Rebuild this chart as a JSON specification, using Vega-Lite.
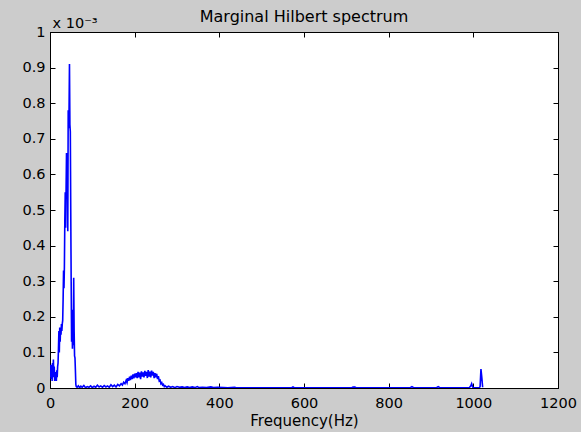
{
  "$schema": "https://vega.github.io/schema/vega-lite/v6.json",
  "width": 508,
  "height": 356,
  "autosize": {"type": "none"},
  "padding": {"left": 50, "top": 32, "right": 23, "bottom": 44},
  "background": "#cccccc",
  "config": {
    "view": {"fill": "white", "stroke": "black", "strokeWidth": 1},
    "font": "DejaVu Sans"
  },
  "title": {
    "text": "Marginal Hilbert spectrum",
    "fontSize": 16,
    "fontWeight": "normal",
    "font": "DejaVu Sans",
    "color": "black",
    "anchor": "middle",
    "offset": -10
  },
  "data": {
    "values": [
      {"frequency": 0, "amplitude": 0.000055}, {"frequency": 1, "amplitude": 0.00003}, {"frequency": 2, "amplitude": 0.000065},
      {"frequency": 3, "amplitude": 0.000025}, {"frequency": 4, "amplitude": 0.00005}, {"frequency": 5, "amplitude": 0.00002},
      {"frequency": 6, "amplitude": 0.00007}, {"frequency": 7, "amplitude": 0.000035}, {"frequency": 8, "amplitude": 0.00008},
      {"frequency": 9, "amplitude": 0.00003}, {"frequency": 10, "amplitude": 0.00006}, {"frequency": 11, "amplitude": 0.00002},
      {"frequency": 12, "amplitude": 0.000045}, {"frequency": 13, "amplitude": 0.000025}, {"frequency": 14, "amplitude": 0.00004},
      {"frequency": 15, "amplitude": 0.00002}, {"frequency": 16, "amplitude": 0.00005}, {"frequency": 17, "amplitude": 0.00003},
      {"frequency": 18, "amplitude": 0.00006}, {"frequency": 19, "amplitude": 0.00007}, {"frequency": 20, "amplitude": 0.00011},
      {"frequency": 21, "amplitude": 0.00016}, {"frequency": 22, "amplitude": 0.0001}, {"frequency": 23, "amplitude": 0.00017},
      {"frequency": 24, "amplitude": 0.00013}, {"frequency": 25, "amplitude": 0.00017}, {"frequency": 26, "amplitude": 0.00015},
      {"frequency": 27, "amplitude": 0.00018}, {"frequency": 28, "amplitude": 0.00016}, {"frequency": 29, "amplitude": 0.00018},
      {"frequency": 30, "amplitude": 0.00019}, {"frequency": 31, "amplitude": 0.00025}, {"frequency": 32, "amplitude": 0.00033},
      {"frequency": 33, "amplitude": 0.00028}, {"frequency": 34, "amplitude": 0.00034}, {"frequency": 35, "amplitude": 0.00047},
      {"frequency": 36, "amplitude": 0.00055}, {"frequency": 37, "amplitude": 0.00045}, {"frequency": 38, "amplitude": 0.00056},
      {"frequency": 39, "amplitude": 0.00066}, {"frequency": 40, "amplitude": 0.00061}, {"frequency": 41, "amplitude": 0.00066},
      {"frequency": 42, "amplitude": 0.00044}, {"frequency": 43, "amplitude": 0.00078}, {"frequency": 44, "amplitude": 0.00073},
      {"frequency": 45, "amplitude": 0.00078}, {"frequency": 46, "amplitude": 0.00091}, {"frequency": 47, "amplitude": 0.00074},
      {"frequency": 48, "amplitude": 0.00072}, {"frequency": 49, "amplitude": 0.0005}, {"frequency": 50, "amplitude": 0.0003},
      {"frequency": 51, "amplitude": 0.00013}, {"frequency": 52, "amplitude": 0.00022}, {"frequency": 53, "amplitude": 0.00011},
      {"frequency": 54, "amplitude": 0.00018}, {"frequency": 55, "amplitude": 0.00012}, {"frequency": 56, "amplitude": 0.00031},
      {"frequency": 57, "amplitude": 0.00016}, {"frequency": 58, "amplitude": 0.00009}, {"frequency": 59, "amplitude": 0.000085},
      {"frequency": 60, "amplitude": 0.00005}, {"frequency": 61, "amplitude": 0.00001}, {"frequency": 62, "amplitude": 0.000004},
      {"frequency": 64, "amplitude": 0.000002}, {"frequency": 67, "amplitude": 0.000006}, {"frequency": 70, "amplitude": 0.000001},
      {"frequency": 73, "amplitude": 0.000005}, {"frequency": 76, "amplitude": 0.000002}, {"frequency": 80, "amplitude": 0.000007},
      {"frequency": 84, "amplitude": 0.000001}, {"frequency": 88, "amplitude": 0.000004}, {"frequency": 92, "amplitude": 0.000002},
      {"frequency": 96, "amplitude": 0.000006}, {"frequency": 100, "amplitude": 0.000001}, {"frequency": 104, "amplitude": 0.000005},
      {"frequency": 108, "amplitude": 0.000002}, {"frequency": 112, "amplitude": 0.000008}, {"frequency": 116, "amplitude": 0.000003},
      {"frequency": 120, "amplitude": 0.000006}, {"frequency": 124, "amplitude": 0.000002}, {"frequency": 128, "amplitude": 0.000007},
      {"frequency": 132, "amplitude": 0.000003}, {"frequency": 136, "amplitude": 0.000006}, {"frequency": 140, "amplitude": 0.000002},
      {"frequency": 144, "amplitude": 0.000009}, {"frequency": 148, "amplitude": 0.000004}, {"frequency": 152, "amplitude": 0.000008},
      {"frequency": 156, "amplitude": 0.000003}, {"frequency": 160, "amplitude": 0.00001}, {"frequency": 164, "amplitude": 0.000006},
      {"frequency": 168, "amplitude": 0.000012}, {"frequency": 171, "amplitude": 0.000008}, {"frequency": 174, "amplitude": 0.000016},
      {"frequency": 177, "amplitude": 0.000012}, {"frequency": 180, "amplitude": 0.000022}, {"frequency": 182, "amplitude": 0.000015},
      {"frequency": 184, "amplitude": 0.000028}, {"frequency": 186, "amplitude": 0.00002}, {"frequency": 188, "amplitude": 0.000032},
      {"frequency": 190, "amplitude": 0.000022}, {"frequency": 192, "amplitude": 0.000035}, {"frequency": 194, "amplitude": 0.000025},
      {"frequency": 196, "amplitude": 0.000038}, {"frequency": 198, "amplitude": 0.000027}, {"frequency": 200, "amplitude": 0.00004},
      {"frequency": 202, "amplitude": 0.00003}, {"frequency": 204, "amplitude": 0.000042}, {"frequency": 206, "amplitude": 0.000028},
      {"frequency": 208, "amplitude": 0.000045}, {"frequency": 210, "amplitude": 0.00003}, {"frequency": 212, "amplitude": 0.000043},
      {"frequency": 214, "amplitude": 0.000025}, {"frequency": 216, "amplitude": 0.000047}, {"frequency": 218, "amplitude": 0.000032},
      {"frequency": 220, "amplitude": 0.000044}, {"frequency": 222, "amplitude": 0.00003}, {"frequency": 224, "amplitude": 0.000048},
      {"frequency": 226, "amplitude": 0.000034}, {"frequency": 228, "amplitude": 0.000045}, {"frequency": 230, "amplitude": 0.000028},
      {"frequency": 232, "amplitude": 0.00005}, {"frequency": 234, "amplitude": 0.000032}, {"frequency": 236, "amplitude": 0.000046},
      {"frequency": 238, "amplitude": 0.00003}, {"frequency": 240, "amplitude": 0.000049}, {"frequency": 242, "amplitude": 0.000035},
      {"frequency": 244, "amplitude": 0.000045}, {"frequency": 246, "amplitude": 0.000028}, {"frequency": 248, "amplitude": 0.000042},
      {"frequency": 250, "amplitude": 0.00003}, {"frequency": 252, "amplitude": 0.00004}, {"frequency": 254, "amplitude": 0.000025},
      {"frequency": 256, "amplitude": 0.000033}, {"frequency": 258, "amplitude": 0.00002}, {"frequency": 260, "amplitude": 0.000022},
      {"frequency": 262, "amplitude": 0.000012}, {"frequency": 264, "amplitude": 0.000015}, {"frequency": 266, "amplitude": 0.000008},
      {"frequency": 268, "amplitude": 0.00001}, {"frequency": 270, "amplitude": 0.000004}, {"frequency": 272, "amplitude": 0.000006},
      {"frequency": 276, "amplitude": 0.000002}, {"frequency": 280, "amplitude": 0.000005}, {"frequency": 285, "amplitude": 0.000002},
      {"frequency": 290, "amplitude": 0.000004}, {"frequency": 295, "amplitude": 0.000001}, {"frequency": 300, "amplitude": 0.000004},
      {"frequency": 306, "amplitude": 0.000002}, {"frequency": 312, "amplitude": 0.000003}, {"frequency": 318, "amplitude": 0.000001},
      {"frequency": 324, "amplitude": 0.000003}, {"frequency": 330, "amplitude": 0.000001}, {"frequency": 336, "amplitude": 0.000003},
      {"frequency": 342, "amplitude": 0.000001}, {"frequency": 348, "amplitude": 0.000004}, {"frequency": 352, "amplitude": 0.000001},
      {"frequency": 360, "amplitude": 0.000002}, {"frequency": 370, "amplitude": 0.000001}, {"frequency": 380, "amplitude": 0.000003},
      {"frequency": 386, "amplitude": 0.000001}, {"frequency": 396, "amplitude": 0.000002}, {"frequency": 410, "amplitude": 0.000001},
      {"frequency": 420, "amplitude": 0.0000005}, {"frequency": 436, "amplitude": 0.000002}, {"frequency": 440, "amplitude": 0.0000005},
      {"frequency": 500, "amplitude": 0.0000003}, {"frequency": 570, "amplitude": 0.0000003}, {"frequency": 574, "amplitude": 0.000003},
      {"frequency": 578, "amplitude": 0.0000003}, {"frequency": 712, "amplitude": 0.0000003}, {"frequency": 716, "amplitude": 0.000003},
      {"frequency": 718, "amplitude": 0.0000003}, {"frequency": 720, "amplitude": 0.000003}, {"frequency": 724, "amplitude": 0.0000003},
      {"frequency": 850, "amplitude": 0.0000003}, {"frequency": 855, "amplitude": 0.000004}, {"frequency": 860, "amplitude": 0.0000003},
      {"frequency": 912, "amplitude": 0.0000003}, {"frequency": 917, "amplitude": 0.000004}, {"frequency": 922, "amplitude": 0.0000003},
      {"frequency": 990, "amplitude": 0.0000003}, {"frequency": 994, "amplitude": 0.000006}, {"frequency": 996, "amplitude": 0.000012},
      {"frequency": 998, "amplitude": 0.000004}, {"frequency": 1000, "amplitude": 0.0000003}, {"frequency": 1014, "amplitude": 0.0000003},
      {"frequency": 1016, "amplitude": 0.000004}, {"frequency": 1018, "amplitude": 0.000053}, {"frequency": 1020, "amplitude": 0.00003},
      {"frequency": 1022, "amplitude": 0.000002}
    ]
  },
  "layer": [
    {
      "mark": {"type": "line", "color": "#0000ff", "strokeWidth": 1.6, "clip": true},
      "encoding": {
        "x": {
          "field": "frequency", "type": "quantitative",
          "scale": {"domain": [0, 1200], "nice": false, "zero": false},
          "axis": {
            "orient": "bottom",
            "values": [0, 200, 400, 600, 800, 1000, 1200],
            "format": "d",
            "title": "Frequency(Hz)",
            "titleFontSize": 15, "titleFontWeight": "normal", "titleColor": "black", "titleFont": "DejaVu Sans",
            "titlePadding": 4,
            "labelFontSize": 14.5, "labelColor": "black", "labelFont": "DejaVu Sans",
            "labelFlush": false, "labelPadding": 13,
            "tickSize": -5, "tickColor": "black", "domainColor": "black", "grid": false
          }
        },
        "y": {
          "field": "amplitude", "type": "quantitative",
          "scale": {"domain": [0, 0.001], "nice": false, "zero": false},
          "axis": {
            "orient": "left",
            "values": [0, 0.0001, 0.0002, 0.0003, 0.0004, 0.0005, 0.0006, 0.0007, 0.0008, 0.0009, 0.001],
            "labelExpr": "format(datum.value * 1000, '~g')",
            "labelFontSize": 14.5, "labelColor": "black", "labelFont": "DejaVu Sans",
            "labelFlush": false, "labelPadding": 10,
            "tickSize": -5, "tickColor": "black", "domainColor": "black", "grid": false,
            "title": "x 10⁻³", "titleAngle": 0, "titleAlign": "left", "titleBaseline": "alphabetic",
            "titleX": 2, "titleY": -5, "titleFontSize": 14.5, "titleFontWeight": "normal", "titleColor": "black", "titleFont": "DejaVu Sans"
          }
        }
      }
    },
    {
      "mark": {"type": "line", "opacity": 0},
      "encoding": {
        "x": {
          "field": "frequency", "type": "quantitative",
          "axis": {"orient": "top", "values": [0, 200, 400, 600, 800, 1000, 1200], "labels": false, "title": null, "tickSize": -5, "tickColor": "black", "domainColor": "black", "grid": false}
        },
        "y": {
          "field": "amplitude", "type": "quantitative",
          "axis": {"orient": "right", "values": [0, 0.0001, 0.0002, 0.0003, 0.0004, 0.0005, 0.0006, 0.0007, 0.0008, 0.0009, 0.001], "labels": false, "title": null, "tickSize": -5, "tickColor": "black", "domainColor": "black", "grid": false}
        }
      }
    }
  ],
  "resolve": {"axis": {"x": "independent", "y": "independent"}}
}
